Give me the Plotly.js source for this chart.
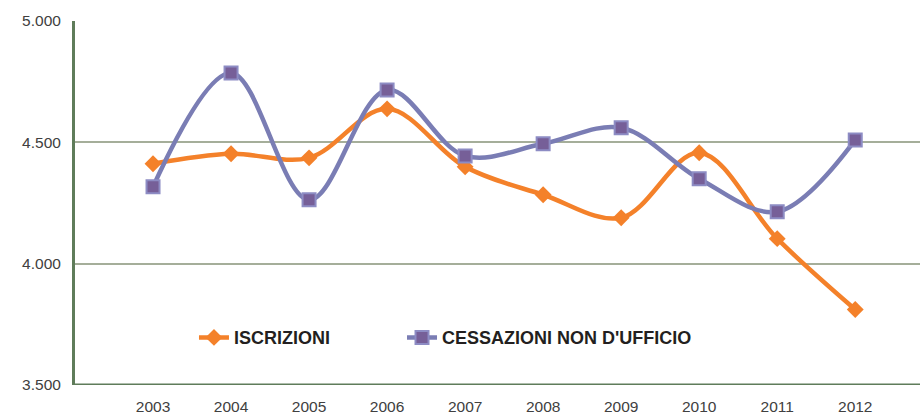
<!DOCTYPE html>
<html>
<head>
<meta charset="utf-8">
<script src="https://cdn.plot.ly/plotly-3.0.1.min.js"></script>
<style>html,body{margin:0;padding:0;background:#fff;}#chart{width:920px;height:416px;}</style>
</head>
<body>
<div id="chart"></div>
<script>
const years = [2003, 2004, 2005, 2006, 2007, 2008, 2009, 2010, 2011, 2012];
const iscrizioni = [4412, 4453, 4436, 4638, 4399, 4284, 4189, 4457, 4103, 3811];
const cessazioni = [4317, 4786, 4263, 4716, 4444, 4494, 4560, 4350, 4214, 4510];
const seriesNames = ["ISCRIZIONI", "CESSAZIONI NON D'UFFICIO"];
const yTicks = [3500, 4000, 4500, 5000];

const legendFont = {family: 'Liberation Sans, Arial, sans-serif', size: 18, color: '#231f20', weight: 'bold'};
const tickFont = {family: 'Liberation Sans, Arial, sans-serif', size: 15.5, color: '#404040'};

const traces = [
  {
    x: years, y: iscrizioni, name: seriesNames[0], type: 'scatter', mode: 'lines+markers',
    legend: 'legend',
    line: {color: '#f4812a', width: 4.5, shape: 'spline', smoothing: 1},
    marker: {symbol: 'diamond', size: 13, color: '#f4812a', line: {color: '#f4812a', width: 0}}
  },
  {
    x: years, y: cessazioni, name: seriesNames[1], type: 'scatter', mode: 'lines+markers',
    legend: 'legend2',
    line: {color: '#7a7db4', width: 4.5, shape: 'spline', smoothing: 1},
    marker: {symbol: 'square', size: 13, color: '#765f98', line: {color: '#8d8cc4', width: 2}}
  }
];

const layout = {
  width: 920, height: 416,
  margin: {l: 75, r: 0, t: 21, b: 31},
  paper_bgcolor: '#fff', plot_bgcolor: '#fff',
  separators: ',.',
  showlegend: true,
  legend: {
    orientation: 'h', x: 0.1408, xanchor: 'left', y: 0.13, yanchor: 'middle',
    font: legendFont, bgcolor: 'rgba(0,0,0,0)'
  },
  legend2: {
    orientation: 'h', x: 0.387, xanchor: 'left', y: 0.13, yanchor: 'middle',
    font: legendFont, bgcolor: 'rgba(0,0,0,0)'
  },
  xaxis: {
    range: [2002, 2012.83], tickvals: years, ticktext: years.map(String),
    showgrid: false, zeroline: false, showline: false, ticks: '',
    ticklabelstandoff: 10,
    tickfont: tickFont
  },
  yaxis: {
    range: [3500, 5000], tickvals: yTicks, tickformat: ',.0f',
    showgrid: true, gridcolor: '#a5ae9a', gridwidth: 2, zeroline: false,
    showline: true, linecolor: '#5f7c5a', linewidth: 3, ticks: '',
    ticklabelstandoff: 8,
    tickfont: tickFont
  },
  shapes: [
    {type: 'line', xref: 'paper', yref: 'y', x0: 0, x1: 1, y0: 3500, y1: 3500, line: {color: '#5f7c5a', width: 3}}
  ]
};

Plotly.newPlot('chart', traces, layout, {displayModeBar: false, staticPlot: true});
</script>
</body>
</html>
